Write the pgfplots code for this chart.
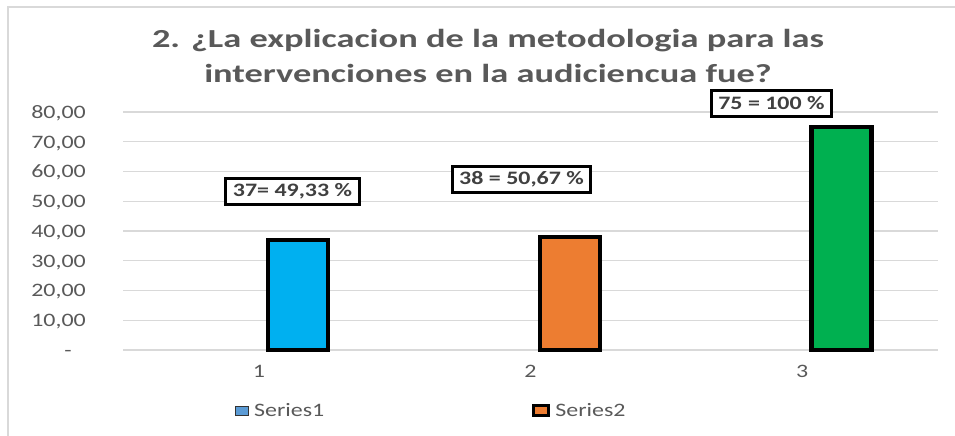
\documentclass[border=0pt]{standalone}
\usepackage{pgfplots}
\pgfplotsset{compat=1.18}
\usepackage{fontspec}
\setmainfont[FakeStretch=1.26]{Carlito}
\newfontfamily\titlefont[FakeStretch=1.4]{Carlito}
\definecolor{gridc}{HTML}{D9D9D9}
\definecolor{txt}{HTML}{595959}
\definecolor{lbl}{HTML}{404040}
\definecolor{cblue}{HTML}{00B0F0}
\definecolor{corange}{HTML}{ED7D31}
\definecolor{cgreen}{HTML}{00B050}
\definecolor{lblue}{HTML}{5B9BD5}
\begin{document}
\begin{tikzpicture}
\path[use as bounding box] (0,0) rectangle (955bp,436bp);
\draw[gridc, line width=2bp] (8bp,0) -- (8bp,429bp) -- (955bp,429bp);
\node[anchor=base, text=txt, inner sep=0pt, font=\titlefont\bfseries\fontsize{26bp}{30bp}\selectfont] at (488bp,388bp) {2. ¿La explicacion de la metodologia para las};
\node[anchor=base, text=txt, inner sep=0pt, font=\titlefont\bfseries\fontsize{26bp}{30bp}\selectfont] at (488bp,353bp) {intervenciones en la audiciencua fue?};
\begin{axis}[
  at={(123bp,86bp)}, anchor=south west, scale only axis,
  width=815bp, height=238bp,
  xmin=0.5, xmax=3.5, ymin=0, ymax=80,
  xtick={1,2,3}, xticklabels={1,2,3},
  ytick={0,10,20,30,40,50,60,70,80},
  yticklabels={{-\hspace*{14bp}},{10,00},{20,00},{30,00},{40,00},{50,00},{60,00},{70,00},{80,00}},
  axis line style={draw=none},
  major tick length=0pt,
  ymajorgrids, grid style={gridc, line width=1.2bp},
  ticklabel style={font=\fontsize{19bp}{22bp}\selectfont, text=txt, inner sep=0pt},
  yticklabel style={anchor=base east, xshift=-37bp, yshift=-6.5bp},
  xticklabel style={anchor=base, yshift=-28bp},
  clip=false,
  legend columns=2,
  legend style={at={(0.1374,-0.2563)}, anchor=west, draw=none, fill=none, inner sep=0pt,
    font=\fontsize{19bp}{22bp}\selectfont, text=txt,
    nodes={inner sep=0pt},
    /tikz/every odd column/.append style={column sep=5bp},
    /tikz/every even column/.append style={column sep=208bp}},
]
\addplot[ybar, bar width=0.221, bar shift=0.145, fill=cblue, draw=black, line width=4bp, forget plot] coordinates {(1,37)};
\addplot[ybar, bar width=0.221, bar shift=0.145, fill=corange, draw=black, line width=4bp, forget plot] coordinates {(2,38)};
\addplot[ybar, bar width=0.221, bar shift=0.145, fill=cgreen, draw=black, line width=4.5bp, forget plot] coordinates {(3,75)};
\addlegendimage{legend image code/.code={\draw[fill=lblue, draw=black!80, line width=1bp] (0bp,-4.5bp) rectangle (13bp,4.5bp);}}
\addlegendentry{Series1}
\addlegendimage{legend image code/.code={\draw[fill=corange, draw=black, line width=3bp] (1.5bp,-5bp) rectangle (16.5bp,5bp);}}
\addlegendentry{Series2}
\node[draw=black, line width=3bp, fill=white, text=lbl, font=\bfseries\fontsize{19bp}{22bp}\selectfont, inner xsep=7bp, inner ysep=0pt, minimum height=26bp] at (axis cs:1.124,53.3) {37= 49,33 \%};
\node[draw=black, line width=3bp, fill=white, text=lbl, font=\bfseries\fontsize{19bp}{22bp}\selectfont, inner xsep=7bp, inner ysep=0pt, minimum height=26bp] at (axis cs:1.967,57.3) {38 = 50,67 \%};
\node[draw=black, line width=3bp, fill=white, text=lbl, font=\bfseries\fontsize{19bp}{22bp}\selectfont, inner xsep=7bp, inner ysep=0pt, minimum height=26bp] at (axis cs:2.887,83.0) {75 = 100 \%};
\end{axis}
\end{tikzpicture}
\end{document}
